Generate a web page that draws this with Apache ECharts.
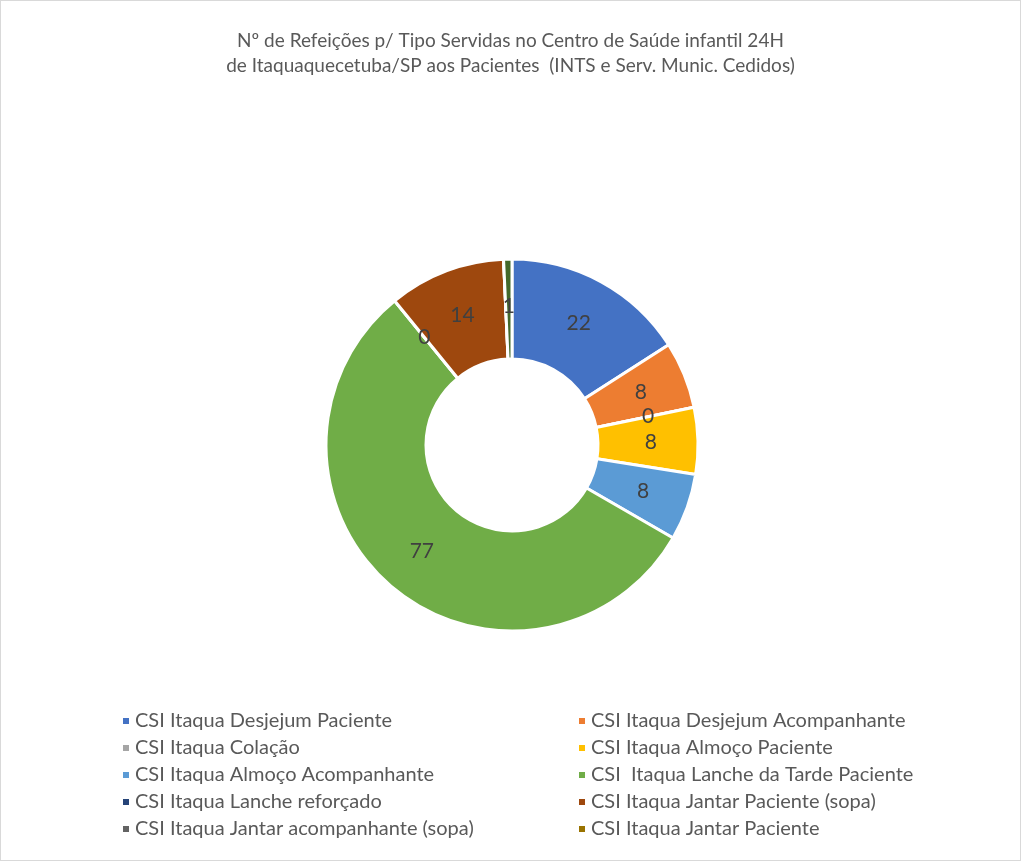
<!DOCTYPE html>
<html>
<head>
<meta charset="utf-8">
<script src="https://cdn.jsdelivr.net/npm/echarts@6/dist/echarts.min.js"></script>
<style>
  html, body { margin: 0; padding: 0; background: #fff; }
  #chart { width: 1019px; height: 859px; border: 1px solid #d9d9d9; }
</style>
</head>
<body>
<div id="chart"></div>
<script>
// categorias e valores
const categorias = [
  'CSI Itaqua Desjejum Paciente',
  'CSI Itaqua Desjejum Acompanhante',
  'CSI Itaqua Colação',
  'CSI Itaqua Almoço Paciente',
  'CSI Itaqua Almoço Acompanhante',
  'CSI  Itaqua Lanche da Tarde Paciente',
  'CSI Itaqua Lanche reforçado',
  'CSI Itaqua Jantar Paciente (sopa)',
  'CSI Itaqua Jantar acompanhante (sopa)',
  'CSI Itaqua Jantar Paciente'
];
const valores = [22, 8, 0, 8, 8, 77, 0, 14, 0, 1];
const cores = ['#4472C4', '#ED7D31', '#A5A5A5', '#FFC000', '#5B9BD5', '#70AD47', '#264478', '#9E480E', '#636363', '#43682B'];
const coresLegenda = ['#4472C4', '#ED7D31', '#A5A5A5', '#FFC000', '#5B9BD5', '#70AD47', '#264478', '#9E480E', '#636363', '#997300'];

const chart = echarts.init(document.getElementById('chart'), null, { renderer: 'canvas' });

const fonte = 'Lato, "Noto Sans", sans-serif';

function legendaItens(par) {
  return categorias
    .map((nome, i) => ({ name: nome, itemStyle: { color: coresLegenda[i] }, i }))
    .filter(d => d.i % 2 === par)
    .map(d => ({ name: d.name, itemStyle: d.itemStyle }));
}

const legendaBase = {
  orient: 'vertical',
  top: 705,
  itemWidth: 8,
  itemHeight: 8,
  itemGap: 7,
  icon: 'rect',
  textStyle: { color: '#595959', fontSize: 20, fontFamily: fonte, lineHeight: 20 },
  selectedMode: false
};

const option = {
  title: {
    text: 'Nº de Refeições p/ Tipo Servidas no Centro de Saúde infantil 24H\nde Itaquaquecetuba/SP aos Pacientes  (INTS e Serv. Munic. Cedidos)',
    left: 'center',
    top: 22,
    textStyle: { color: '#595959', fontSize: 19, fontWeight: 'normal', fontFamily: fonte, lineHeight: 25 }
  },
  legend: [
    Object.assign({}, legendaBase, { left: 115, data: legendaItens(0) }),
    Object.assign({}, legendaBase, { left: 571, data: legendaItens(1) })
  ],
  series: [
    {
      type: 'pie',
      center: [511, 444],
      radius: [86, 186],
      startAngle: 90,
      clockwise: true,
      avoidLabelOverlap: false,
      itemStyle: { borderColor: '#fff', borderWidth: 3 },
      label: {
        show: true,
        position: 'inside',
        formatter: '{c}',
        color: '#404040',
        fontSize: 21,
        fontFamily: fonte
      },
      labelLine: { show: false },
      emphasis: { disabled: true },
      data: categorias.map((nome, i) => ({
        name: nome,
        value: valores[i],
        itemStyle: { color: cores[i] }
      }))
    }
  ]
};

chart.setOption(option);
window.addEventListener('resize', function () { chart.resize(); });
</script>
</body>
</html>
